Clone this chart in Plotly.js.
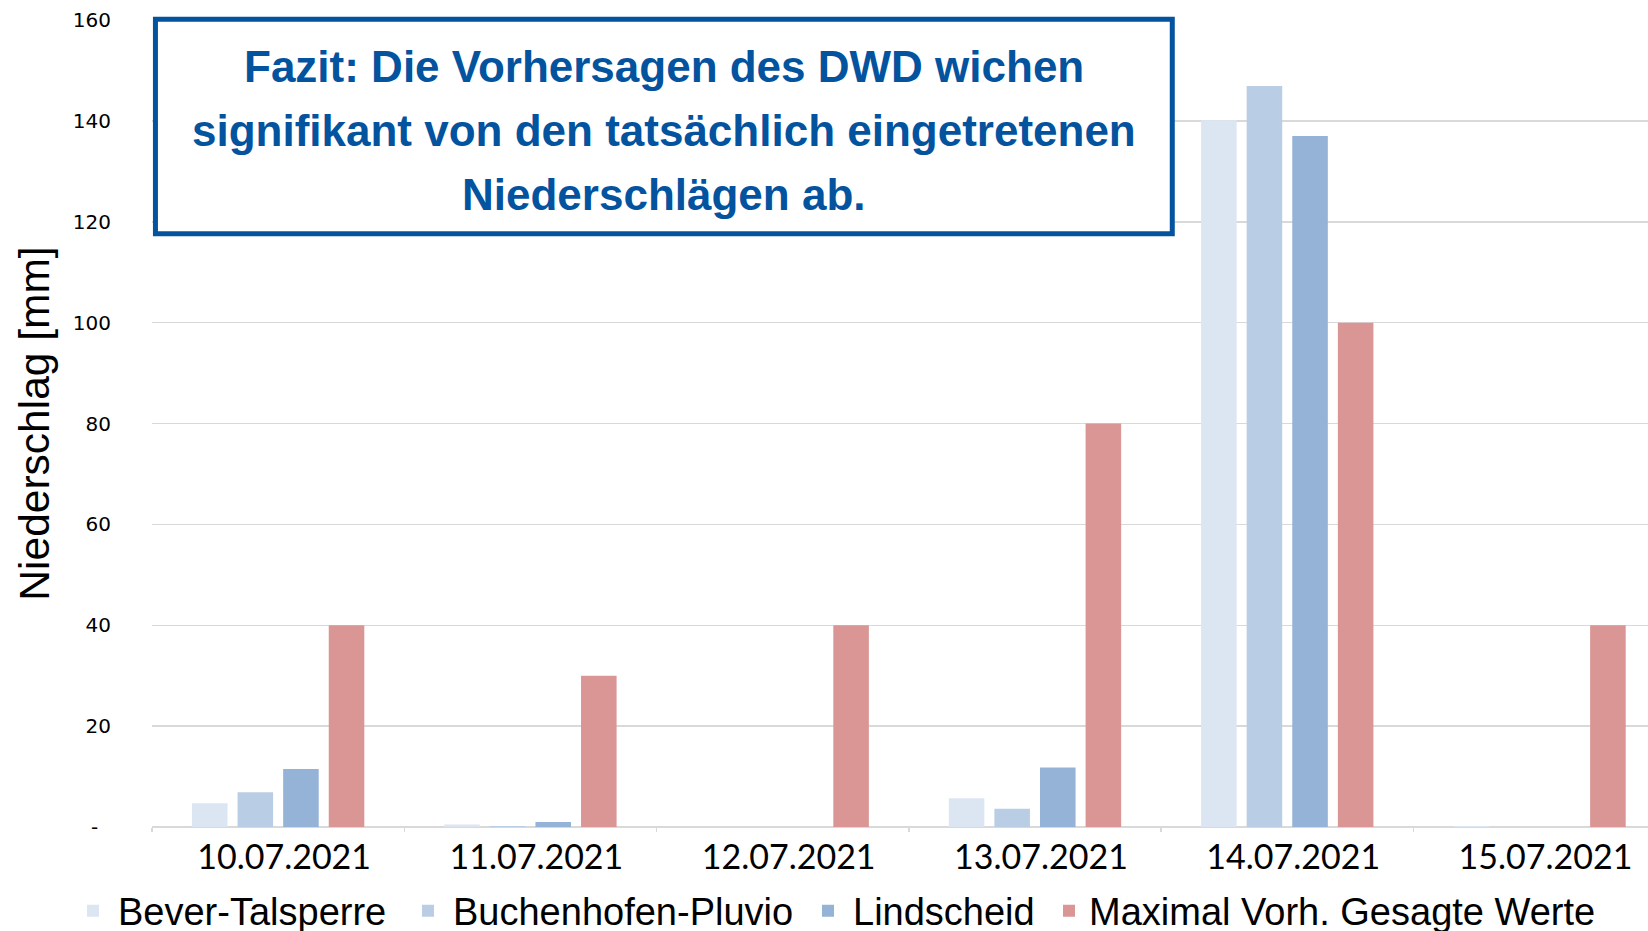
<!DOCTYPE html>
<html>
<head>
<meta charset="utf-8">
<script src="https://cdn.plot.ly/plotly-3.0.1.min.js"></script>
<style>
html,body{margin:0;padding:0;background:#fff;}
#chart{width:1648px;height:931px;}
</style>
</head>
<body>
<div id="chart"></div>
<script>
// ---- data ----
const categories = ['10.07.2021','11.07.2021','12.07.2021','13.07.2021','14.07.2021','15.07.2021'];
const seriesNames = ['Bever-Talsperre','Buchenhofen-Pluvio','Lindscheid','Maximal Vorh. Gesagte Werte'];
const bever       = [4.7, 0.5, 0, 5.7, 140.1, 0.2];
const buchenhofen = [6.9, 0.2, 0, 3.6, 146.9, 0];
const lindscheid  = [11.5, 1.0, 0, 11.8, 137.0, 0];
const maximal     = [40, 30, 40, 80, 100, 40];
const yTickVals   = [0, 20, 40, 60, 80, 100, 120, 140, 160];
const yTickText   = ['-\u00a0\u00a0', '20', '40', '60', '80', '100', '120', '140', '160'];
const yTitle      = 'Niederschlag [mm]';
const boxLines    = ['Fazit: Die Vorhersagen des DWD wichen',
                     'signifikant von den tatsächlich eingetretenen',
                     'Niederschlägen ab.'];

// ---- styling ----
const colors = ['#DCE6F2', '#B9CDE5', '#95B3D7', '#D99694'];
const values = [bever, buchenhofen, lindscheid, maximal];
const arial = '"Liberation Sans", Arial, sans-serif';
const blue = '#03539F';
const legendIds = ['legend', 'legend2', 'legend3', 'legend4'];
const legendX = [-0.05615, 0.16778, 0.43516, 0.59960];
const legendItemW = [40, 40, 40, 30];

const traces = values.map((v, i) => ({
  type: 'bar',
  name: seriesNames[i],
  x: categories,
  y: v,
  legend: legendIds[i],
  marker: {color: colors[i], line: {width: 0}},
  hoverinfo: 'skip'
}));

const lineY = [0.9425, 0.8632, 0.7833];
const annotations = boxLines.map((t, i) => ({
  text: t,
  xref: 'paper', yref: 'paper',
  x: 0.3422, y: lineY[i],
  xanchor: 'center', yanchor: 'middle',
  showarrow: false,
  font: {family: arial, size: 44, color: blue, weight: 'bold'}
}));

const layout = {
  width: 1648, height: 931,
  margin: {l: 152, r: 0, t: 20, b: 104, autoexpand: false},
  paper_bgcolor: '#fff', plot_bgcolor: '#fff',
  barmode: 'group',
  bargap: 0.277,
  bargroupgap: 0.22,
  showlegend: true,
  xaxis: {
    type: 'category',
    range: [-0.5, 5.43],
    showgrid: false,
    showline: false,
    zeroline: false,
    ticks: 'outside',
    tickson: 'boundaries',
    ticklen: 4,
    tickwidth: 1.5,
    tickcolor: '#D9D9D9',
    tickfont: {family: 'Lato, "Open Sans", sans-serif', size: 34, color: '#000'},
    ticklabelstandoff: 7,
    ticklabelshift: 6,
    automargin: false,
    fixedrange: true
  },
  yaxis: {
    range: [0, 160],
    tickmode: 'array',
    tickvals: yTickVals,
    ticktext: yTickText,
    showgrid: true,
    gridcolor: '#D9D9D9',
    gridwidth: 1.5,
    zeroline: true,
    zerolinecolor: '#D9D9D9',
    zerolinewidth: 2.5,
    showline: false,
    ticks: '',
    ticklabelstandoff: 40,
    tickfont: {family: '"DejaVu Sans", sans-serif', size: 20, color: '#000'},
    title: {text: yTitle, font: {family: arial, size: 42.5, color: '#000'}, standoff: 9},
    automargin: false,
    fixedrange: true
  },
  shapes: [{
    type: 'rect',
    xref: 'paper', yref: 'paper',
    x0: 0.0023, x1: 0.682,
    y0: 0.735, y1: 1.001,
    line: {color: blue, width: 5},
    fillcolor: '#fff',
    layer: 'above'
  }],
  annotations: annotations
};

legendIds.forEach((id, i) => {
  layout[id] = {
    orientation: 'h',
    x: legendX[i], xanchor: 'left',
    y: -0.104, yanchor: 'middle',
    itemwidth: legendItemW[i],
    font: {family: arial, size: 38, color: '#000'},
    bgcolor: 'rgba(0,0,0,0)',
    borderwidth: 0
  };
});

Plotly.newPlot('chart', traces, layout, {displayModeBar: false, staticPlot: true});
</script>
</body>
</html>
